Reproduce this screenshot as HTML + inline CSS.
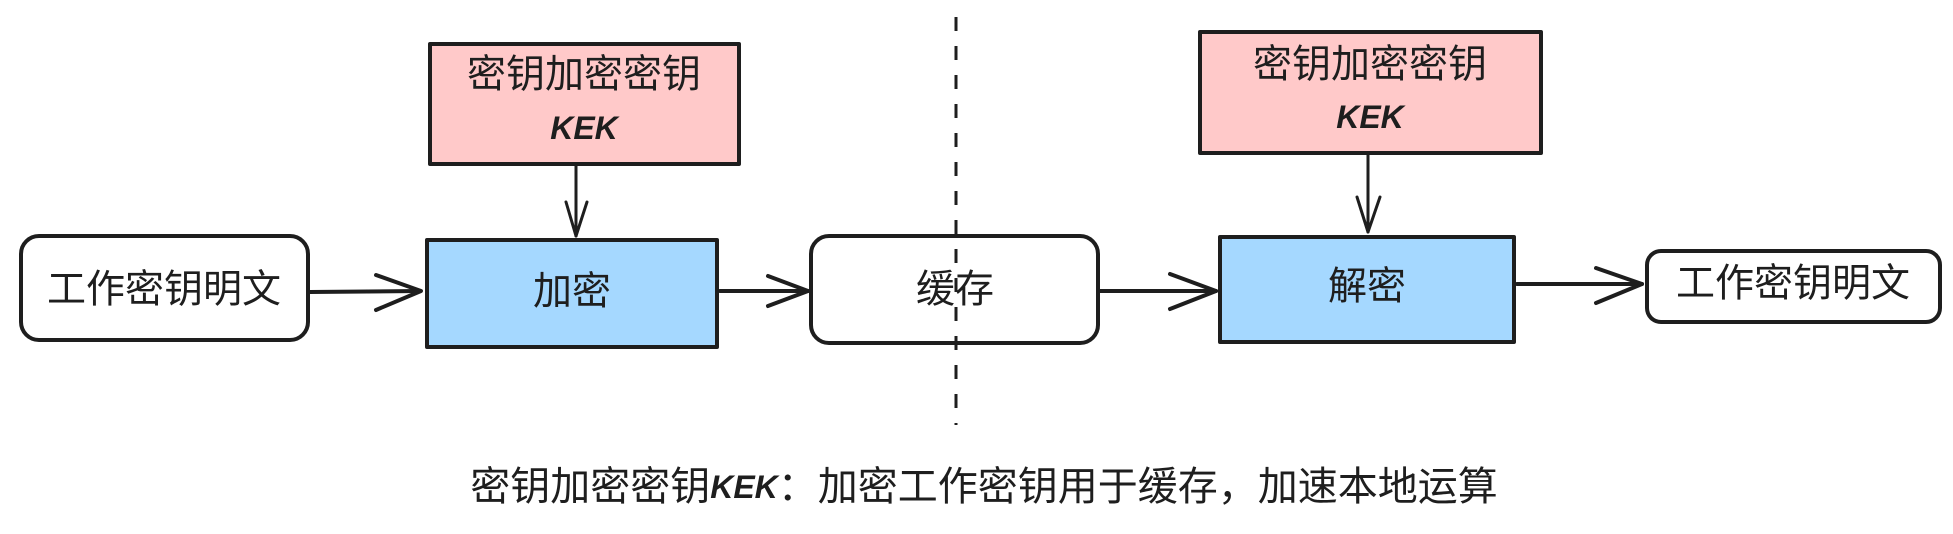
<!DOCTYPE html>
<html><head><meta charset="utf-8"><style>
html,body{margin:0;padding:0;background:#fff;}
svg{display:block}
text{font-family:"Liberation Sans","Noto Sans CJK SC",sans-serif;fill:#1e1e1e;}
.k{font-weight:bold;font-style:italic;}
</style></head><body>
<svg width="1953" height="534" viewBox="0 0 1953 534" xmlns="http://www.w3.org/2000/svg">
<g stroke="#1e1e1e" stroke-width="4" stroke-linejoin="round">
  <rect x="21" y="236" width="287" height="104" rx="18" fill="#fff"/>
  <rect x="430" y="44" width="309" height="120" fill="#ffc9c9"/>
  <rect x="427" y="240" width="290" height="107" fill="#a5d8ff"/>
  <rect x="811" y="236" width="287" height="107" rx="18" fill="#fff"/>
  <rect x="1200" y="32" width="341" height="121" fill="#ffc9c9"/>
  <rect x="1220" y="237" width="294" height="105" fill="#a5d8ff"/>
  <rect x="1647" y="251" width="293" height="71" rx="14" fill="#fff"/>
</g>
<line x1="956" y1="17" x2="956" y2="425" stroke="#1e1e1e" stroke-width="3" stroke-dasharray="14 15"/>
<g stroke="#1e1e1e" fill="none" stroke-linecap="round" stroke-linejoin="round">
  <g stroke-width="4">
    <path d="M310 292 L420 291"/><path d="M376 275 L421 291 L376 310"/>
    <path d="M720 291 L808 291"/><path d="M768 276 L808 291 L768 306"/>
    <path d="M1100 291 L1216 291"/><path d="M1170 274 L1216 291 L1170 309"/>
    <path d="M1517 284 L1642 284"/><path d="M1596 268 L1642 284 L1596 303"/>
  </g>
  <g stroke-width="3">
    <path d="M576 165 L576 236"/><path d="M566 202 L576 236 L587 202"/>
    <path d="M1368 154 L1368 232"/><path d="M1357 197 L1368 232 L1380 197"/>
  </g>
</g>
<g font-size="39" text-anchor="middle" dominant-baseline="central">
  <text x="164" y="290">工作密钥明文</text>
  <text x="584" y="75">密钥加密密钥</text>
  <text x="584" y="128" class="k" font-size="32">KEK</text>
  <text x="572" y="292">加密</text>
  <text x="955" y="290">缓存</text>
  <text x="1370" y="65">密钥加密密钥</text>
  <text x="1370" y="117" class="k" font-size="32">KEK</text>
  <text x="1367" y="287">解密</text>
  <text x="1793" y="284">工作密钥明文</text>
  <text x="984" y="487" font-size="40">密钥加密密钥<tspan class="k" font-size="32">KEK</tspan>：加密工作密钥用于缓存，加速本地运算</text>
</g>
</svg>
</body></html>
